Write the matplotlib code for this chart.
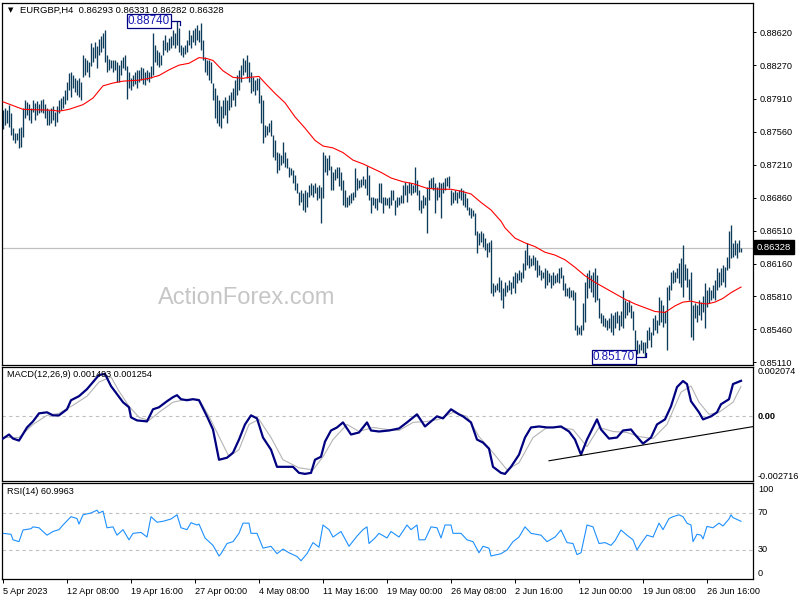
import numpy as np
import matplotlib
matplotlib.use("Agg")
import matplotlib.pyplot as plt
from matplotlib.transforms import blended_transform_factory

plt.rcParams['font.family'] = ['Liberation Sans', 'DejaVu Sans']
plt.rcParams['font.size'] = 6.6

## EURGBP H4 bars, high / low in pips (price * 10000), one value per bar
high = [8779, 8781, 8779, 8785, 8776, 8760, 8755, 8755, 8760, 8761,
        8781, 8790, 8788, 8786, 8781, 8790, 8787, 8789, 8786, 8790,
        8791, 8786, 8781, 8779, 8781, 8784, 8777, 8784, 8790, 8792,
        8794, 8801, 8809, 8819, 8820, 8816, 8813, 8811, 8813, 8809,
        8838, 8835, 8832, 8830, 8851, 8846, 8852, 8847, 8855, 8858,
        8861, 8864, 8838, 8834, 8832, 8832, 8832, 8830, 8827, 8832,
        8836, 8838, 8826, 8820, 8813, 8817, 8820, 8822, 8822, 8825,
        8824, 8820, 8822, 8820, 8826, 8861, 8848, 8843, 8841, 8838,
        8854, 8859, 8852, 8856, 8858, 8864, 8861, 8874, 8866, 8848,
        8846, 8848, 8854, 8864, 8859, 8864, 8867, 8870, 8864, 8872,
        8854, 8836, 8832, 8832, 8830, 8808, 8803, 8795, 8790, 8784,
        8790, 8793, 8790, 8795, 8798, 8803, 8811, 8816, 8822, 8827,
        8835, 8832, 8838, 8830, 8820, 8814, 8811, 8813, 8813, 8795,
        8790, 8763, 8762, 8766, 8769, 8753, 8747, 8735, 8734, 8731,
        8745, 8735, 8728, 8719, 8718, 8715, 8710, 8702, 8692, 8694,
        8691, 8694, 8692, 8700, 8702, 8700, 8702, 8697, 8700, 8697,
        8735, 8731, 8728, 8731, 8720, 8713, 8717, 8719, 8719, 8713,
        8705, 8694, 8687, 8689, 8691, 8692, 8718, 8707, 8705, 8706,
        8709, 8706, 8720, 8710, 8687, 8687, 8686, 8686, 8702, 8702,
        8687, 8687, 8686, 8687, 8694, 8694, 8684, 8687, 8687, 8689,
        8700, 8703, 8700, 8703, 8702, 8700, 8719, 8705, 8694, 8684,
        8689, 8687, 8697, 8705, 8707, 8708, 8702, 8697, 8703, 8702,
        8703, 8707, 8708, 8709, 8694, 8692, 8694, 8692, 8694, 8696,
        8694, 8691, 8686, 8676, 8675, 8673, 8670, 8651, 8649, 8651,
        8648, 8643, 8638, 8639, 8641, 8595, 8593, 8595, 8602, 8598,
        8590, 8596, 8593, 8598, 8596, 8603, 8607, 8606, 8609, 8607,
        8617, 8630, 8638, 8625, 8622, 8625, 8623, 8620, 8614, 8609,
        8607, 8611, 8609, 8606, 8604, 8607, 8604, 8606, 8611, 8612,
        8604, 8595, 8590, 8591, 8588, 8588, 8586, 8551, 8549, 8551,
        8574, 8596, 8606, 8609, 8604, 8607, 8611, 8604, 8579, 8563,
        8561, 8558, 8556, 8558, 8563, 8561, 8564, 8566, 8561, 8566,
        8588, 8577, 8575, 8577, 8572, 8566, 8545, 8535, 8530, 8535,
        8533, 8533, 8545, 8548, 8543, 8558, 8561, 8556, 8580, 8577,
        8572, 8566, 8591, 8593, 8607, 8609, 8607, 8611, 8617, 8622,
        8636, 8615, 8611, 8600, 8607, 8572, 8574, 8572, 8577, 8575,
        8582, 8595, 8588, 8591, 8588, 8593, 8598, 8611, 8607, 8611,
        8614, 8612, 8623, 8651, 8657, 8638, 8641, 8638, 8641, 8633]
low = [8759, 8763, 8766, 8761, 8753, 8747, 8744, 8747, 8739, 8740,
       8751, 8771, 8774, 8769, 8766, 8777, 8769, 8774, 8776, 8777,
       8776, 8771, 8763, 8763, 8765, 8769, 8762, 8767, 8776, 8779,
       8781, 8786, 8790, 8801, 8793, 8803, 8798, 8795, 8793, 8790,
       8814, 8816, 8820, 8814, 8826, 8830, 8835, 8824, 8838, 8841,
       8845, 8830, 8820, 8822, 8824, 8820, 8822, 8809, 8809, 8816,
       8824, 8822, 8791, 8803, 8801, 8805, 8807, 8803, 8809, 8811,
       8807, 8806, 8811, 8809, 8813, 8816, 8830, 8827, 8825, 8827,
       8838, 8843, 8841, 8843, 8845, 8848, 8845, 8848, 8841, 8838,
       8836, 8839, 8841, 8848, 8845, 8852, 8848, 8854, 8852, 8843,
       8832, 8820, 8816, 8811, 8808, 8790, 8771, 8766, 8762, 8760,
       8771, 8774, 8766, 8779, 8782, 8790, 8784, 8795, 8801, 8809,
       8816, 8820, 8813, 8809, 8797, 8800, 8795, 8801, 8787, 8765,
       8744, 8751, 8753, 8756, 8752, 8729, 8726, 8712, 8715, 8721,
       8723, 8719, 8718, 8708, 8710, 8702, 8694, 8691, 8678, 8681,
       8673, 8671, 8676, 8687, 8689, 8687, 8691, 8684, 8686, 8659,
       8686, 8713, 8710, 8715, 8694, 8694, 8705, 8707, 8699, 8694,
       8678, 8676, 8676, 8678, 8680, 8684, 8687, 8694, 8696, 8697,
       8700, 8696, 8689, 8684, 8670, 8678, 8675, 8673, 8681, 8680,
       8670, 8678, 8678, 8675, 8678, 8684, 8668, 8676, 8678, 8680,
       8680, 8689, 8681, 8691, 8689, 8691, 8692, 8689, 8673, 8670,
       8675, 8678, 8648, 8684, 8696, 8694, 8670, 8684, 8687, 8664,
       8691, 8694, 8699, 8696, 8678, 8680, 8684, 8680, 8686, 8684,
       8678, 8676, 8673, 8668, 8664, 8667, 8646, 8627, 8636, 8639,
       8634, 8630, 8623, 8628, 8585, 8582, 8586, 8588, 8586, 8577,
       8569, 8582, 8586, 8588, 8584, 8590, 8585, 8595, 8598, 8596,
       8601, 8609, 8614, 8611, 8613, 8614, 8609, 8602, 8604, 8598,
       8601, 8590, 8593, 8596, 8590, 8593, 8595, 8596, 8595, 8601,
       8588, 8582, 8581, 8579, 8580, 8577, 8545, 8540, 8541, 8540,
       8545, 8554, 8579, 8590, 8586, 8580, 8575, 8577, 8558, 8553,
       8550, 8548, 8545, 8547, 8543, 8540, 8547, 8553, 8545, 8550,
       8547, 8558, 8561, 8564, 8558, 8545, 8520, 8520, 8521, 8524,
       8521, 8517, 8526, 8535, 8527, 8540, 8545, 8542, 8551, 8554,
       8548, 8553, 8524, 8577, 8588, 8595, 8596, 8601, 8595, 8591,
       8580, 8598, 8591, 8577, 8538, 8535, 8558, 8554, 8561, 8556,
       8564, 8547, 8570, 8574, 8577, 8579, 8577, 8588, 8591, 8593,
       8596, 8591, 8609, 8611, 8622, 8623, 8625, 8622, 8628, 8628]

## moving average (red), sampled at bar indices
ma_idx = [0, 10, 25, 28, 33, 40, 45, 50, 55, 60, 68, 73, 78, 83, 88, 93, 98, 102, 105,
          110, 115, 120, 123, 128, 131, 136, 141, 146, 151, 156, 160, 165, 170, 175, 180,
          183, 186, 189, 194, 200, 205, 212, 219, 224, 229, 234, 239, 244, 249, 251, 256,
          261, 266, 271, 276, 281, 286, 291, 296, 301, 306, 311, 316, 321, 326, 331, 336,
          340, 344, 348, 352, 356, 360, 364, 369]
ma_val = [8788, 8780, 8779, 8778, 8780, 8785, 8792, 8805, 8808, 8810, 8811, 8813, 8816,
          8822, 8827, 8829, 8835, 8834, 8832, 8821, 8814, 8813, 8814, 8815, 8808, 8797,
          8787, 8772, 8760, 8747, 8741, 8739, 8734, 8726, 8722, 8719, 8716, 8713, 8707,
          8703, 8701, 8696, 8695, 8695, 8693, 8690, 8681, 8673, 8661, 8654, 8643, 8638,
          8634, 8628, 8625, 8620, 8612, 8603, 8596, 8590, 8584, 8578, 8573, 8569, 8565,
          8564, 8571, 8575, 8576, 8574, 8573, 8575, 8579, 8585, 8591]

last_price = 0.86328
price_ticks = [0.88620, 0.88270, 0.87910, 0.87560, 0.87210, 0.86860,
               0.86510, 0.86160, 0.85810, 0.85460, 0.85110]

## MACD main line
macd_idx = [0, 3, 5, 8, 12, 15, 18, 22, 25, 28, 32, 34, 38, 42, 45, 48, 51, 54, 57, 60,
            63, 64, 67, 72, 75, 78, 82, 85, 87, 89, 92, 95, 98, 102, 105, 108, 112, 115,
            118, 121, 124, 127, 130, 134, 137, 142, 145, 148, 151, 154, 156, 159, 161,
            164, 167, 170, 174, 178, 182, 184, 188, 193, 198, 202, 207, 211, 217, 220,
            224, 228, 230, 234, 237, 240, 243, 245, 249, 251, 254, 258, 261, 264, 268,
            272, 275, 279, 283, 286, 289, 292, 297, 299, 303, 307, 310, 314, 316, 320,
            324, 327, 331, 334, 337, 340, 342, 344, 348, 350, 354, 357, 359, 363, 365, 369]
macd_val = [-0.000933, -0.000763, -0.000933, -0.001018, -0.000466, -0.000212, 0.000127,
            0.000170, 0.000042, 0.000042, 0.000297, 0.000678, 0.000848, 0.001145, 0.001442,
            0.001738, 0.001781, 0.001272, 0.000933, 0.000594, 0.000382, -0.000042,
            -0.000170, -0.000212, 0.000297, 0.000382, 0.000636, 0.000806, 0.000890,
            0.000721, 0.000678, 0.000721, 0.000678, 0.0, -0.000551, -0.001823, -0.001738,
            -0.001526, -0.000975, -0.000339, 0.000042, -0.000085, -0.000890, -0.001399,
            -0.002120, -0.002120, -0.002120, -0.002374, -0.002417, -0.002374, -0.001823,
            -0.001696, -0.001060, -0.000594, -0.000466, -0.000254, -0.000763, -0.000678,
            -0.000254, -0.000594, -0.000636, -0.000594, -0.000509, -0.000254, 0.000085,
            -0.000424, 0.0, -0.000085, 0.000297, 0.000085, 0.0, -0.000254, -0.000975,
            -0.001102, -0.001357, -0.002120, -0.002374, -0.002417, -0.002120, -0.001611,
            -0.000890, -0.000466, -0.000424, -0.000466, -0.000466, -0.000424, -0.000636,
            -0.000975, -0.001611, -0.000975, -0.000127, -0.000551, -0.000933, -0.000890,
            -0.000594, -0.000551, -0.000763, -0.001145, -0.000890, -0.000339, -0.000127,
            0.000424, 0.001230, 0.001484, 0.001357, 0.000636, 0.000170, -0.000127, 0.0,
            0.000170, 0.000509, 0.000721, 0.001357, 0.001493]
## MACD signal line
sig_idx = [0, 8, 15, 22, 28, 35, 42, 48, 54, 58, 63, 68, 73, 78, 85, 92, 98, 103, 108,
           113, 118, 123, 128, 134, 140, 148, 155, 160, 165, 172, 178, 185, 192, 198, 205,
           212, 218, 225, 232, 238, 245, 252, 258, 265, 272, 278, 285, 292, 298, 305, 312,
           318, 325, 332, 339, 344, 348, 353, 358, 365, 369]
sig_val = [-0.000890, -0.000890, -0.000339, 0.000042, 0.000127, 0.000466, 0.000848,
           0.001442, 0.001654, 0.001060, 0.000424, -0.000042, -0.000170, 0.000170,
           0.000594, 0.000721, 0.000721, 0.0, -0.000848, -0.001696, -0.001399, -0.000339,
           -0.000127, -0.000890, -0.001823, -0.002162, -0.002247, -0.001696, -0.000975,
           -0.000339, -0.000636, -0.000466, -0.000551, -0.000594, -0.000254, -0.000212,
           -0.000127, 0.000170, 0.0, -0.000848, -0.001526, -0.002247, -0.001950,
           -0.000890, -0.000466, -0.000466, -0.000551, -0.001272, -0.000466, -0.000636,
           -0.000678, -0.000848, -0.000933, -0.000339, 0.001018, 0.001272, 0.000594,
           0.000085, 0.000170, 0.000594, 0.001254]
trend_idx = [273, 375.5]
trend_val = [-0.001866, -0.000424]

## RSI(14)
rsi_idx = [0, 4, 5, 8, 10, 14, 15, 18, 22, 25, 28, 30, 34, 37, 38, 40, 44, 47, 48, 50,
           52, 55, 57, 60, 63, 65, 69, 72, 74, 77, 80, 84, 87, 89, 92, 94, 97, 98, 101,
           105, 108, 109, 112, 115, 118, 120, 123, 124, 127, 130, 134, 137, 140, 143, 147,
           149, 152, 155, 158, 160, 163, 165, 169, 173, 177, 180, 182, 183, 186, 188, 192,
           194, 198, 202, 204, 207, 208, 211, 214, 217, 219, 221, 224, 225, 229, 232, 235,
           238, 240, 243, 244, 249, 252, 255, 258, 261, 264, 269, 272, 276, 279, 282, 285,
           287, 289, 292, 295, 298, 301, 304, 306, 309, 312, 315, 317, 319, 322, 325, 328,
           330, 333, 335, 338, 340, 342, 344, 345, 347, 349, 350, 352, 355, 358, 360, 363,
           364, 365, 369]
rsi_val = [48, 47, 41, 39, 51.6, 53, 55, 54, 46, 50, 52, 57, 66, 64, 58, 68, 70, 73, 70,
           72, 54, 55, 46, 52, 41, 48, 49, 44, 66, 60, 61, 63.5, 68, 54, 52, 59.5, 57, 58,
           43, 35, 23.5, 26, 37, 39, 48, 59, 59, 48, 48, 32, 34, 26, 31, 27, 23, 18.4, 26,
           38, 33, 57, 52, 44, 50, 34, 45, 52, 55, 37, 43, 48, 43, 50, 44, 57, 52, 57, 41,
           41, 55, 54, 43, 57, 57, 48, 48, 41, 39, 27, 34, 32, 23.5, 26, 30, 39, 44, 55, 48,
           46, 39, 44, 51.6, 38, 37, 25, 27, 57, 55, 37, 38, 35, 40, 51.6, 46, 41, 30, 37,
           46, 44, 59, 52, 64, 66, 68, 66, 59, 57, 39, 47, 46, 42, 55.5, 54, 59, 56, 63.5,
           68, 65, 61]

date_ticks = [0, 32, 64, 96, 128, 160, 192, 224, 256, 288, 320, 352]
date_labels = ["5 Apr 2023", "12 Apr 08:00", "19 Apr 16:00", "27 Apr 00:00",
               "4 May 08:00", "11 May 16:00", "19 May 00:00", "26 May 08:00",
               "2 Jun 16:00", "12 Jun 00:00", "19 Jun 08:00", "26 Jun 16:00"]

BAR_C = '#0c3c5a'
GRID_C = '#c0c0c0'

fig = plt.figure(figsize=(8, 6), dpi=100)
ax1 = fig.add_axes([0.0025, 0.39167, 0.93875, 0.60333])
ax2 = fig.add_axes([0.0025, 0.19833, 0.93875, 0.19])
ax3 = fig.add_axes([0.0025, 0.035, 0.93875, 0.16])

xs = np.arange(len(high))
hi = np.array(high) / 1e4
lo = np.array(low) / 1e4

for ax in (ax1, ax2, ax3):
    ax.set_xlim(-0.5, 375)
    for s in ax.spines.values():
        s.set_linewidth(0.9)
        s.set_color('black')
    ax.yaxis.tick_right()
    ax.tick_params(axis='y', direction='out', length=2.5, width=0.7, pad=2.5,
                   labelsize=6.6, colors='black')
    ax.set_xticks([])

## price panel
ax1.axhline(last_price, color=GRID_C, lw=0.9, zorder=1)
ax1.vlines(xs, lo, hi, color=BAR_C, lw=0.95, zorder=2)
ax1.plot(ma_idx, np.array(ma_val) / 1e4, color='red', lw=0.8, zorder=3)
ax1.set_ylim(0.85081, 0.88931)
ax1.set_yticks(price_ticks)
ax1.set_yticklabels(["%.5f" % p for p in price_ticks])

ax1.text(72.8, 0.88740, "0.88740", color='#1a1ab4', fontsize=8.4, ha='center', va='center',
         bbox=dict(boxstyle='square,pad=0.08', fc='white', ec='#000080', lw=0.9), zorder=5)
ax1.plot([83.5, 88.5, 88.5], [0.88740, 0.88740, 0.88700], color='#000080', lw=0.9, zorder=4)
ax1.text(305.5, 0.85169, "0.85170", color='#1a1ab4', fontsize=8.4, ha='center', va='center',
         bbox=dict(boxstyle='square,pad=0.08', fc='white', ec='#000080', lw=0.9), zorder=5)
ax1.plot([316, 321.5, 321.5], [0.85169, 0.85169, 0.85210], color='#000080', lw=0.9, zorder=4)

fig.text(8 / 800, 1 - 10 / 600, "\u25BC", fontsize=5, family='DejaVu Sans', va='center')
fig.text(20 / 800, 1 - 10 / 600, "EURGBP,H4  0.86293 0.86331 0.86282 0.86328",
         fontsize=6.8, va='center')
fig.text(247 / 800, 1 - 298 / 600, "ActionForex.com", fontsize=17, color='#c6c6c6',
         ha='center', va='center')
fig.text(757 / 800, 1 - 247 / 600, "%.5f" % last_price, fontsize=6.8, color='white',
         va='center', bbox=dict(boxstyle='square,pad=0.3', fc='black', ec='black'))

## MACD panel
ax2.axhline(0, color=GRID_C, lw=0.8, ls=(0, (3, 3)), zorder=1)
ax2.plot(sig_idx, sig_val, color='#b4b4b4', lw=0.8, zorder=2)
ax2.plot(macd_idx, macd_val, color='#000080', lw=1.6, zorder=3)
ax2.plot(trend_idx, trend_val, color='black', lw=0.8, zorder=4, clip_on=True)
ax2.set_ylim(-0.002716, 0.002074)
ax2.set_yticks([])
tr2 = blended_transform_factory(ax2.transAxes, ax2.transData)
ax2.text(1.0065, 0.002074, "0.002074", transform=tr2, va='top', fontsize=6.6)
ax2.text(1.0065, 0.0, "0.00", transform=tr2, va='center', fontsize=6.6, fontweight='bold')
ax2.text(1.0065, -0.002716, "-0.002716", transform=tr2, va='bottom', fontsize=6.6)
ax2.text(0.006, 0.93, "MACD(12,26,9) 0.001493 0.001254", transform=ax2.transAxes,
         va='center', fontsize=6.6)

## RSI panel
for lv in (70, 30):
    ax3.axhline(lv, color=GRID_C, lw=0.8, ls=(0, (3, 3)), zorder=1)
ax3.plot(rsi_idx, rsi_val, color='#1e90ff', lw=0.8, zorder=2)
ax3.set_ylim(-1.35, 102.4)
ax3.set_yticks([])
tr3 = blended_transform_factory(ax3.transAxes, ax3.transData)
ax3.text(1.0065, 100, "100", transform=tr3, va='top', fontsize=6.6)
ax3.text(1.0065, 70, "70", transform=tr3, va='center', fontsize=6.6)
ax3.text(1.0065, 30, "30", transform=tr3, va='center', fontsize=6.6)
ax3.text(1.0065, 0, "0", transform=tr3, va='bottom', fontsize=6.6)
ax3.text(0.006, 0.91, "RSI(14) %.4f" % 60.9963, transform=ax3.transAxes,
         va='center', fontsize=6.6)

ax3.set_xticks(date_ticks)
ax3.set_xticklabels(date_labels, ha='left')
ax3.tick_params(axis='x', direction='out', length=3, width=0.7, pad=2.5, labelsize=6.6)

fig.savefig("out.png", dpi=100)
